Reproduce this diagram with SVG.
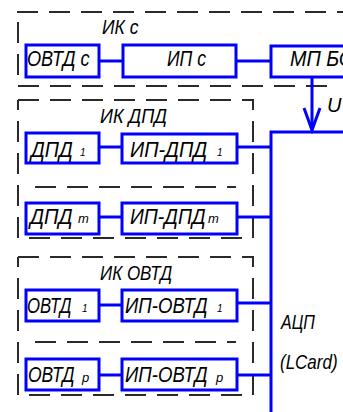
<svg xmlns="http://www.w3.org/2000/svg" width="343" height="412" viewBox="0 0 343 412">
<style>
.box{fill:#fff;stroke:#0000ff;stroke-width:3}
.ln{fill:none;stroke:#0000ff;stroke-width:3}
.dash{fill:none;stroke:#2a2a2a;stroke-width:2;stroke-dasharray:21 11}
text{font-family:"Liberation Sans",Arial,sans-serif;font-style:italic;fill:#000}
.t{font-size:22px}
.lb{font-size:20px}
.s{font-size:13px}
.s1{font-size:10px}
</style>
<rect width="343" height="412" fill="#fff"/>
<g id="groups">
<path class="dash" d="M17 12H343"/>
<path class="dash" d="M18 22V80"/>
<path class="dash" d="M18 86H330"/>
<path class="dash" d="M18 100H253V238H18V100"/>
<path class="dash" d="M35 187H236"/>
<path class="dash" d="M18 257H253V395H18V257"/>
<path class="dash" d="M35 342H236"/>
<text class="lb" transform="translate(102 34) scale(0.877 1)">ИК с</text>
<text class="lb" transform="translate(100 123) scale(0.903 1)">ИК ДПД</text>
<text class="lb" transform="translate(100 280) scale(0.85 1)">ИК ОВТД</text>
</g>
<g id="connectors">
<path class="ln" d="M99 61H123M236 61H271"/>
<path class="ln" d="M99 147H123M237 147H271M99 217H123M237 217H271"/>
<path class="ln" d="M99 305H123M237 303H271M99 375H123M237 375H271"/>
<path class="ln" d="M312 77V130"/>
<path class="ln" stroke-width="2.5" d="M304 108L312 130L320 108"/>
</g>
<g id="ovtd-c"><rect class="box" x="26" y="45" width="73" height="32"/><text class="t" transform="translate(27 66) scale(0.826 1)">ОВТД с</text></g>
<g id="ip-c"><rect class="box" x="123" y="45" width="113" height="32"/><text class="t" transform="translate(167 66) scale(0.8 1)">ИП с</text></g>
<g id="mp-bs"><rect class="box" x="271" y="46" width="80" height="31"/><text class="t" transform="translate(290 66) scale(0.9 1)">МП БС</text></g>
<g id="u-label"><text class="lb" x="327" y="112">U</text></g>
<g id="dpd-1"><rect class="box" x="26" y="133" width="73" height="30"/><text class="t" transform="translate(31 157) scale(0.89 1)">ДПД</text><text class="s1" x="80" y="156">1</text></g>
<g id="ip-dpd-1"><rect class="box" x="122" y="134" width="115" height="29"/><text class="t" transform="translate(130 157) scale(0.9 1)">ИП-ДПД</text><text class="s1" x="217" y="156">1</text></g>
<g id="dpd-m"><rect class="box" x="26" y="203" width="73" height="31"/><text class="t" transform="translate(30 224) scale(0.91 1)">ДПД</text><text class="s" x="78" y="223">m</text></g>
<g id="ip-dpd-m"><rect class="box" x="122" y="203" width="115" height="31"/><text class="t" transform="translate(130 224) scale(0.88 1)">ИП-ДПД</text><text class="s" x="208" y="223">m</text></g>
<g id="ovtd-1"><rect class="box" x="26" y="290" width="73" height="31"/><text class="t" transform="translate(27 313) scale(0.76 1)">ОВТД</text><text class="s1" x="82" y="312">1</text></g>
<g id="ip-ovtd-1"><rect class="box" x="122" y="290" width="115" height="31"/><text class="t" transform="translate(125 313) scale(0.845 1)">ИП-ОВТД</text><text class="s1" x="217" y="312">1</text></g>
<g id="ovtd-p"><rect class="box" x="26" y="359" width="73" height="31"/><text class="t" transform="translate(28 382) scale(0.795 1)">ОВТД</text><text class="s" x="82" y="382">p</text></g>
<g id="ip-ovtd-p"><rect class="box" x="122" y="359" width="115" height="31"/><text class="t" transform="translate(125 382) scale(0.845 1)">ИП-ОВТД</text><text class="s" x="216" y="382">p</text></g>
<g id="adc"><path class="ln" d="M345 132H271V414"/><text class="lb" transform="translate(281 329) scale(0.8 1)">АЦП</text><text class="lb" transform="translate(280 369) scale(0.85 1)">(LCard)</text></g>
</svg>
